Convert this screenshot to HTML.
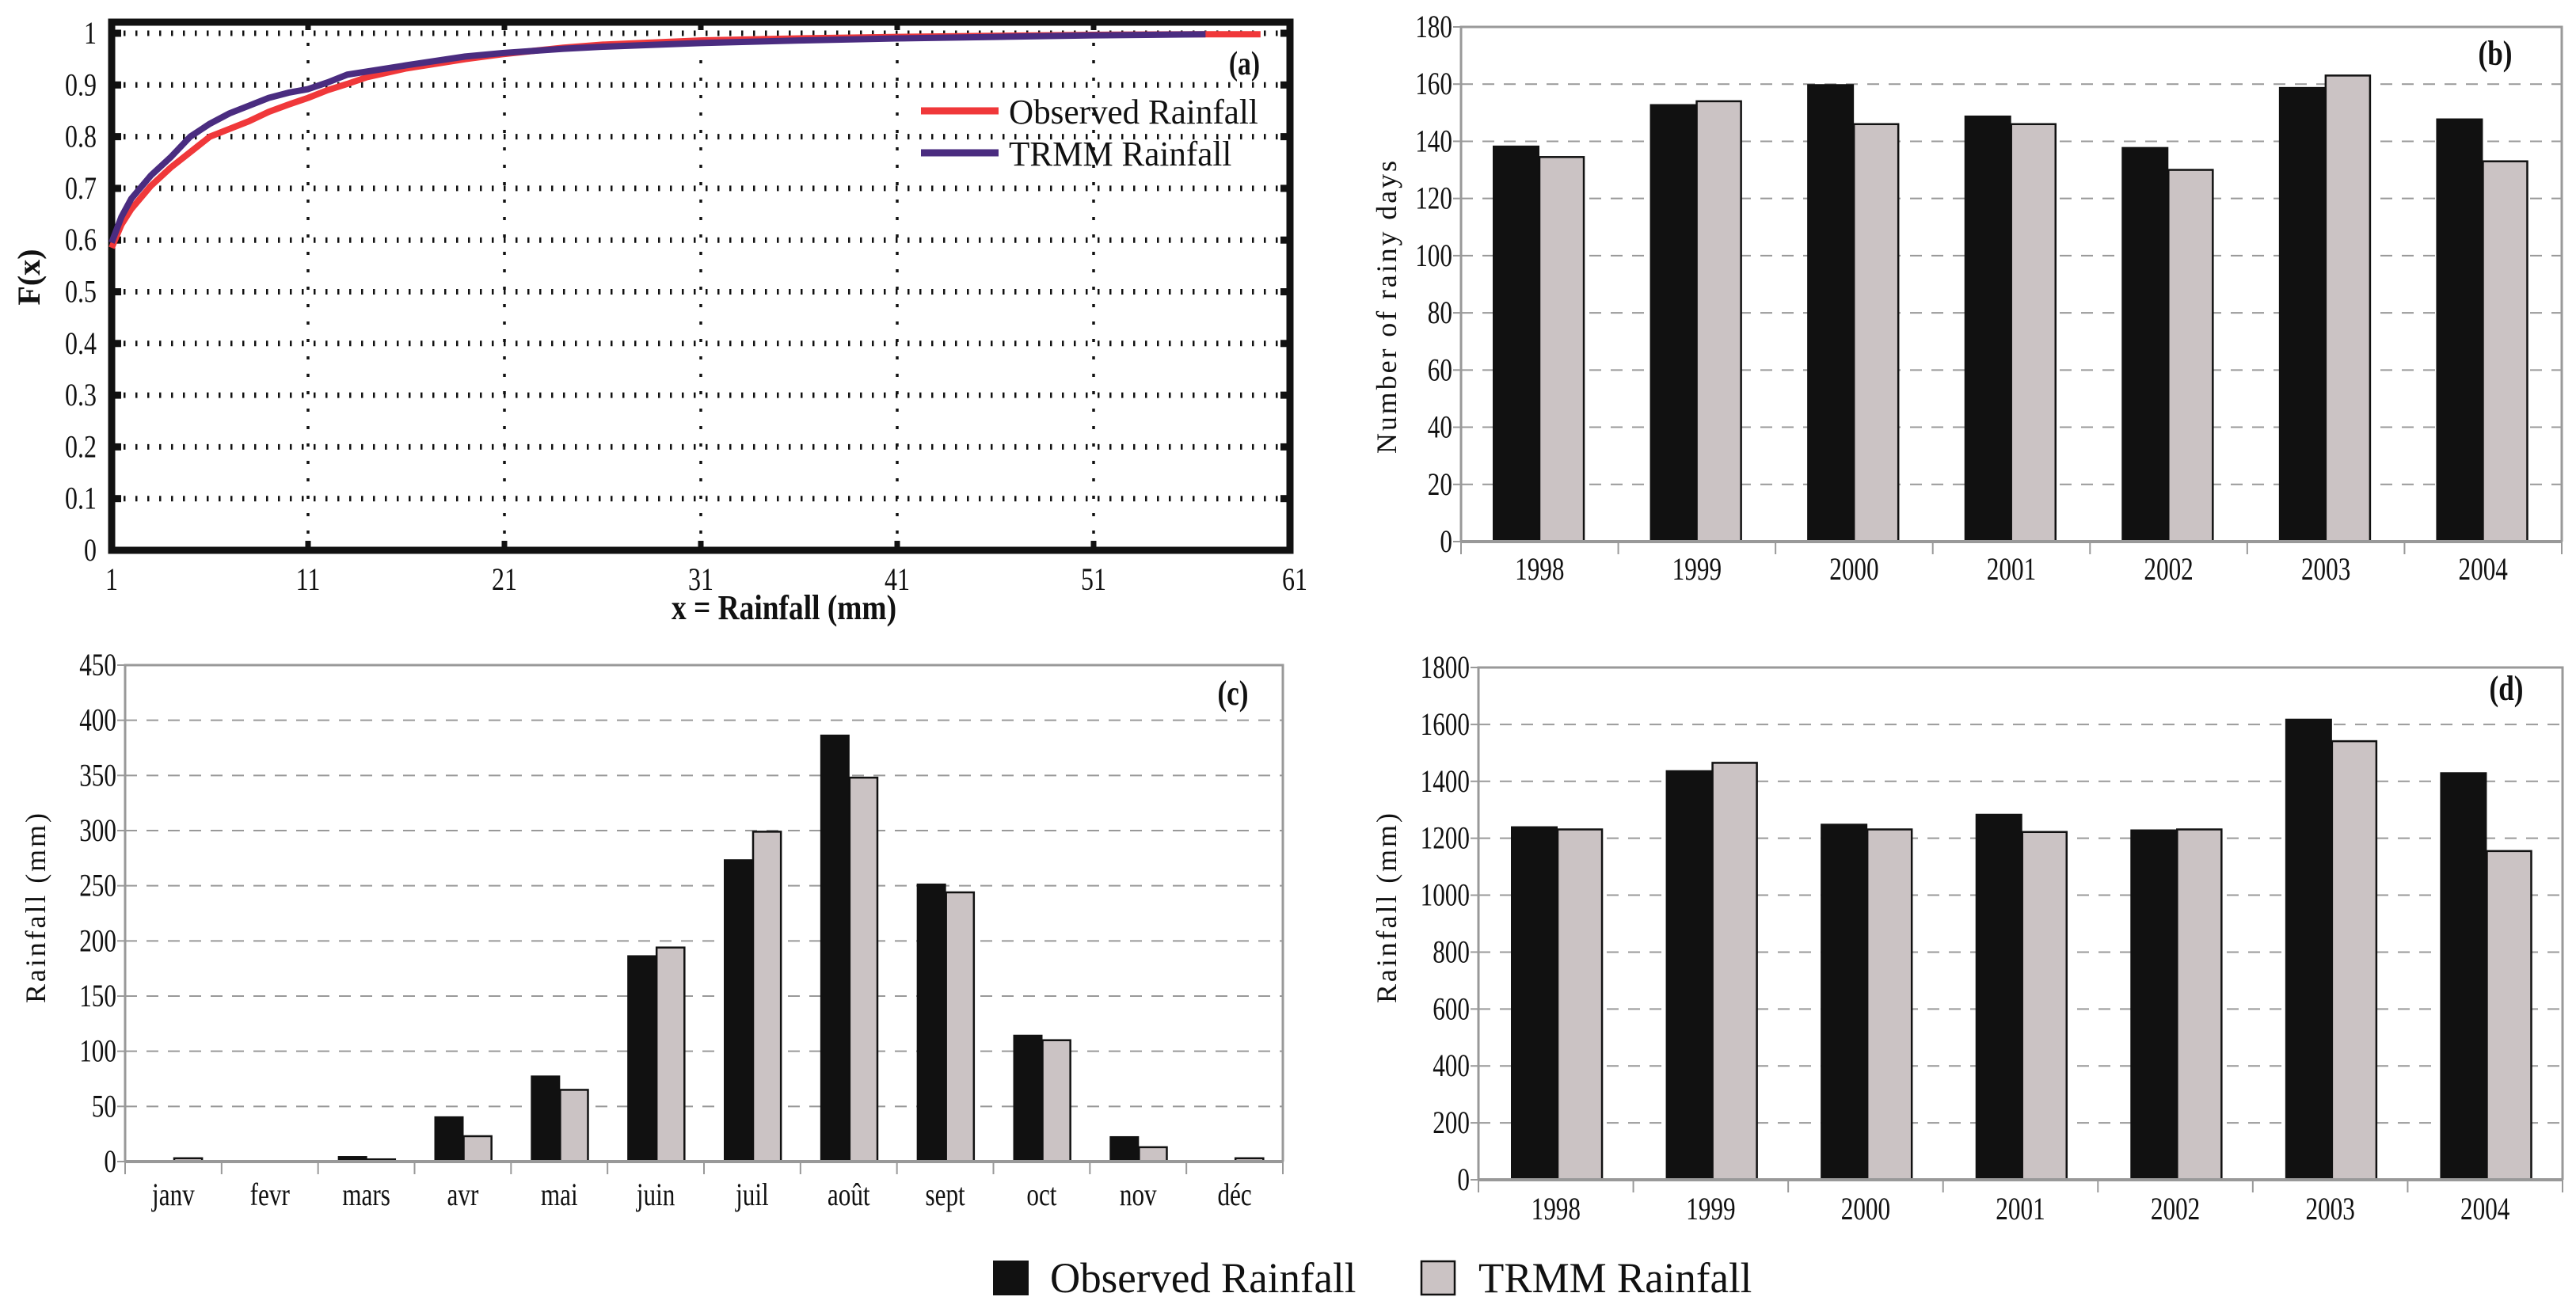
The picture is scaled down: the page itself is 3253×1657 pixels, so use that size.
<!DOCTYPE html>
<html><head><meta charset="utf-8"><style>
html,body{margin:0;padding:0;background:#fff;}
svg{display:block;}
</style></head><body>
<svg id="fig" xmlns="http://www.w3.org/2000/svg" width="3253" height="1657" viewBox="0 0 3253 1657">
<rect width="3253" height="1657" fill="#fff"/>
<g id="pa"></g>
<g id="pb"></g>
<g id="pc"></g>
<g id="pd"></g>
<g id="legend"></g>
</svg>
<script>
// ---- Panel (a) data ----
const cdfXObs = [1,1.5,2,3,4,5,6,7,8,9,10,11,12,13,14,16,19,21,24,26,31,36,41,46,51,56,59.5];
const cdfYObs = [0.585,0.63,0.66,0.705,0.74,0.77,0.80,0.815,0.83,0.848,0.862,0.875,0.89,0.902,0.915,0.932,0.95,0.96,0.972,0.978,0.986,0.99,0.993,0.995,0.997,0.998,0.998];
const cdfXTrmm = [1,1.5,2,3,4,5,6,7,8,9,10,11,12,13,14,16,19,21,24,26,31,36,41,46,51,56.7];
const cdfYTrmm = [0.595,0.645,0.68,0.725,0.76,0.80,0.825,0.845,0.86,0.875,0.885,0.892,0.905,0.92,0.926,0.938,0.955,0.962,0.97,0.974,0.981,0.986,0.99,0.993,0.996,0.998];
const aXTicks = [1,11,21,31,41,51,61];
const aYTicks = [0,0.1,0.2,0.3,0.4,0.5,0.6,0.7,0.8,0.9,1];
// ---- Panel (b) data ----
const years = ["1998","1999","2000","2001","2002","2003","2004"];
const rainyObs = [138.5,153,160,149,138,159,148];
const rainyTrmm = [134.5,154,146,146,130,163,133];
const bTicks = [0,20,40,60,80,100,120,140,160,180];
// ---- Panel (c) data ----
const months = ["janv","fevr","mars","avr","mai","juin","juil","août","sept","oct","nov","déc"];
const monthObs = [0,0,5,41,78,187,274,387,252,115,23,0];
const monthTrmm = [3,0,2,23,65,194,299,348,244,110,13,3];
const cTicks = [0,50,100,150,200,250,300,350,400,450];
// ---- Panel (d) data ----
const annualObs = [1242,1439,1251,1286,1231,1620,1432];
const annualTrmm = [1231,1465,1231,1222,1231,1541,1155];
const dTicks = [0,200,400,600,800,1000,1200,1400,1600,1800];

const NS="http://www.w3.org/2000/svg";
function mk(parent,tag,attrs){const e=document.createElementNS(NS,tag);for(const k in attrs)e.setAttribute(k,attrs[k]);parent.appendChild(e);return e;}
function txt(parent,x,y,s,size,anchor,opts){
  opts=opts||{};
  const t=mk(parent,'text',{transform:`translate(${x},${y}) scale(${opts.sx||0.8},1)${opts.rot?' rotate(-90)':''}`,'font-family':opts.fam||'"Liberation Serif", serif','font-size':size,'text-anchor':anchor,fill:'#111','font-weight':opts.bold?'bold':'normal'});
  t.textContent=s;return t;
}

// ===== Panel A =====
(function(){
  const g=document.getElementById('pa');
  const L=141,R=1629,T=42,B=695;
  const sx=v=>L+(v-1)/60*(R-L), sy=v=>B-v*(B-T);
  aYTicks.forEach(v=>{
    if(v>0&&v<1){const l=mk(g,'line',{x1:L+15,x2:R-10,y1:sy(v),y2:sy(v),stroke:'#111','stroke-width':7,'stroke-dasharray':'2.5 12.5'});
    }
    if(v===1){mk(g,'line',{x1:L+15,x2:R-10,y1:sy(v),y2:sy(v),stroke:'#111','stroke-width':7,'stroke-dasharray':'2.5 12.5'});}
    mk(g,'line',{x1:L,x2:L+12,y1:sy(v),y2:sy(v),stroke:'#111','stroke-width':9});
    mk(g,'line',{x1:R-12,x2:R,y1:sy(v),y2:sy(v),stroke:'#111','stroke-width':9});
    const t=txt(g,122,sy(v)+13,String(v),40,'end',{sx:0.8});
    
  });
  aXTicks.forEach(v=>{
    if(v>1&&v<61){const l=mk(g,'line',{x1:sx(v),x2:sx(v),y1:T+12,y2:B,stroke:'#111','stroke-width':3.5,'stroke-dasharray':'4 18'});
    
    mk(g,'line',{x1:sx(v),x2:sx(v),y1:T-18,y2:T-4,stroke:'#111','stroke-width':7});
    mk(g,'line',{x1:sx(v),x2:sx(v),y1:B-12,y2:B,stroke:'#111','stroke-width':7});}
    const t=txt(g,sx(v)+(v===61?6:0),745,String(v),40,'middle',{sx:0.8});
    
  });
  const fr=mk(g,'path',{d:`M${L} ${B}V28H${R}V${B}Z`,fill:'none',stroke:'#111','stroke-width':9});
  
  function line(xs,ys,col,name){
    const p=mk(g,'polyline',{points:xs.map((x,i)=>sx(x)+','+sy(ys[i])).join(' '),fill:'none',stroke:col,'stroke-width':8,'stroke-linejoin':'round'});
    
  }
  line(cdfXObs,cdfYObs,'#f0383a','observed-cdf-line');
  line(cdfXTrmm,cdfYTrmm,'#4a2c80','trmm-cdf-line');
  const lab=txt(g,1591,94,'(a)',42,'end',{bold:true,sx:0.8});
  
  mk(g,'line',{x1:1163,x2:1261,y1:140,y2:140,stroke:'#f0383a','stroke-width':9});
  const l1=txt(g,1274,156,'Observed Rainfall',44,'start',{sx:0.98});
  
  mk(g,'line',{x1:1163,x2:1261,y1:193,y2:193,stroke:'#4a2c80','stroke-width':9});
  const l2=txt(g,1274,209,'TRMM Rainfall',44,'start',{sx:0.98});
  
  const xl=txt(g,990,782,'x = Rainfall (mm)',44,'middle',{bold:true,sx:0.85});
  
  const yl=txt(g,50,350,'F(x)',40,'middle',{bold:true,sx:1,rot:true});
  
})();

// ===== Bar chart helper =====
function barChart(gid,cats,obs,trmm,ticks,box,opt){
  const g=document.getElementById(gid);
  const {L,R,T,B}=box; const max=ticks[ticks.length-1];
  const sy=v=>B-v/max*(B-T); const cw=(R-L)/cats.length;
  ticks.forEach(v=>{
    if(v>0&&v<max){const l=mk(g,'line',{x1:L,x2:R,y1:sy(v),y2:sy(v),stroke:'#999','stroke-width':2,'stroke-dasharray':'15 12'});
    }
    mk(g,'line',{x1:L-10,x2:L,y1:sy(v),y2:sy(v),stroke:'#999','stroke-width':2});
    const t=txt(g,L-11,sy(v)+13,String(v),40,'end',{sx:0.78});
    
  });
  mk(g,'path',{d:`M${L} ${B}V${T}H${R}V${B}`,fill:'none',stroke:'#999','stroke-width':3});
  cats.forEach((c,i)=>{
    const x0=L+i*cw;
    const bw=opt.bw, off=opt.off;
    if(obs[i]>0){const b=mk(g,'rect',{x:x0+off,y:sy(obs[i]),width:bw,height:B-sy(obs[i]),fill:'#111'});
    }
    if(trmm[i]>0){const b=mk(g,'rect',{x:x0+off+bw,y:sy(trmm[i]),width:bw*0.95,height:B-sy(trmm[i]),fill:'#cbc3c4',stroke:'#111','stroke-width':2.5});
    }
    mk(g,'line',{x1:x0+cw,x2:x0+cw,y1:B,y2:B+opt.tick,stroke:'#999','stroke-width':2});
    const t=txt(g,x0+cw/2,B+opt.labDy,c,40,'middle',{sx:0.78});
    
  });
  mk(g,'line',{x1:L,x2:L,y1:B,y2:B+opt.tick,stroke:'#999','stroke-width':2});
  const ax=mk(g,'line',{x1:L,x2:R,y1:B,y2:B,stroke:'#999','stroke-width':4});
  
  const pl=txt(g,opt.plx,opt.ply,opt.panel,44,'middle',{bold:true,sx:0.8});
  
  const yt=mk(g,'text',{transform:`translate(${opt.ytx},${opt.yty}) rotate(-90)`,'font-family':'"Liberation Serif", serif','font-size':36,'text-anchor':'middle',fill:'#111',textLength:opt.ytl,lengthAdjust:'spacing'});
  yt.textContent=opt.ytitle;
  
}
barChart('pb',years,rainyObs,rainyTrmm,bTicks,{L:1845,R:3235,T:34,B:684},
  {bw:59,off:40,tick:16,labDy:48,panel:'(b)',plx:3151,ply:82,ytx:1763,yty:388,ytl:370,ytitle:'Number of rainy days'});
barChart('pc',months,monthObs,monthTrmm,cTicks,{L:158,R:1620,T:840,B:1467},
  {bw:37,off:25,tick:16,labDy:55,panel:'(c)',plx:1557,ply:890,ytx:57,yty:1147,ytl:240,ytitle:'Rainfall (mm)'});
barChart('pd',years,annualObs,annualTrmm,dTicks,{L:1867,R:3236,T:843,B:1490},
  {bw:59,off:41,tick:16,labDy:50,panel:'(d)',plx:3165,ply:884,ytx:1763,yty:1147,ytl:240,ytitle:'Rainfall (mm)'});

// ===== Legend =====
(function(){
  const g=document.getElementById('legend');
  const s1=mk(g,'rect',{x:1254,y:1592,width:45,height:44,fill:'#111'});
  
  const t1=txt(g,1326,1632,'Observed Rainfall',54,'start',{sx:0.98});
  
  const s2=mk(g,'rect',{x:1795,y:1593,width:42,height:42,fill:'#cbc3c4',stroke:'#111','stroke-width':2.5});
  
  const t2=txt(g,1867,1632,'TRMM Rainfall',54,'start',{sx:0.98});
  
})();
</script>
</body></html>
